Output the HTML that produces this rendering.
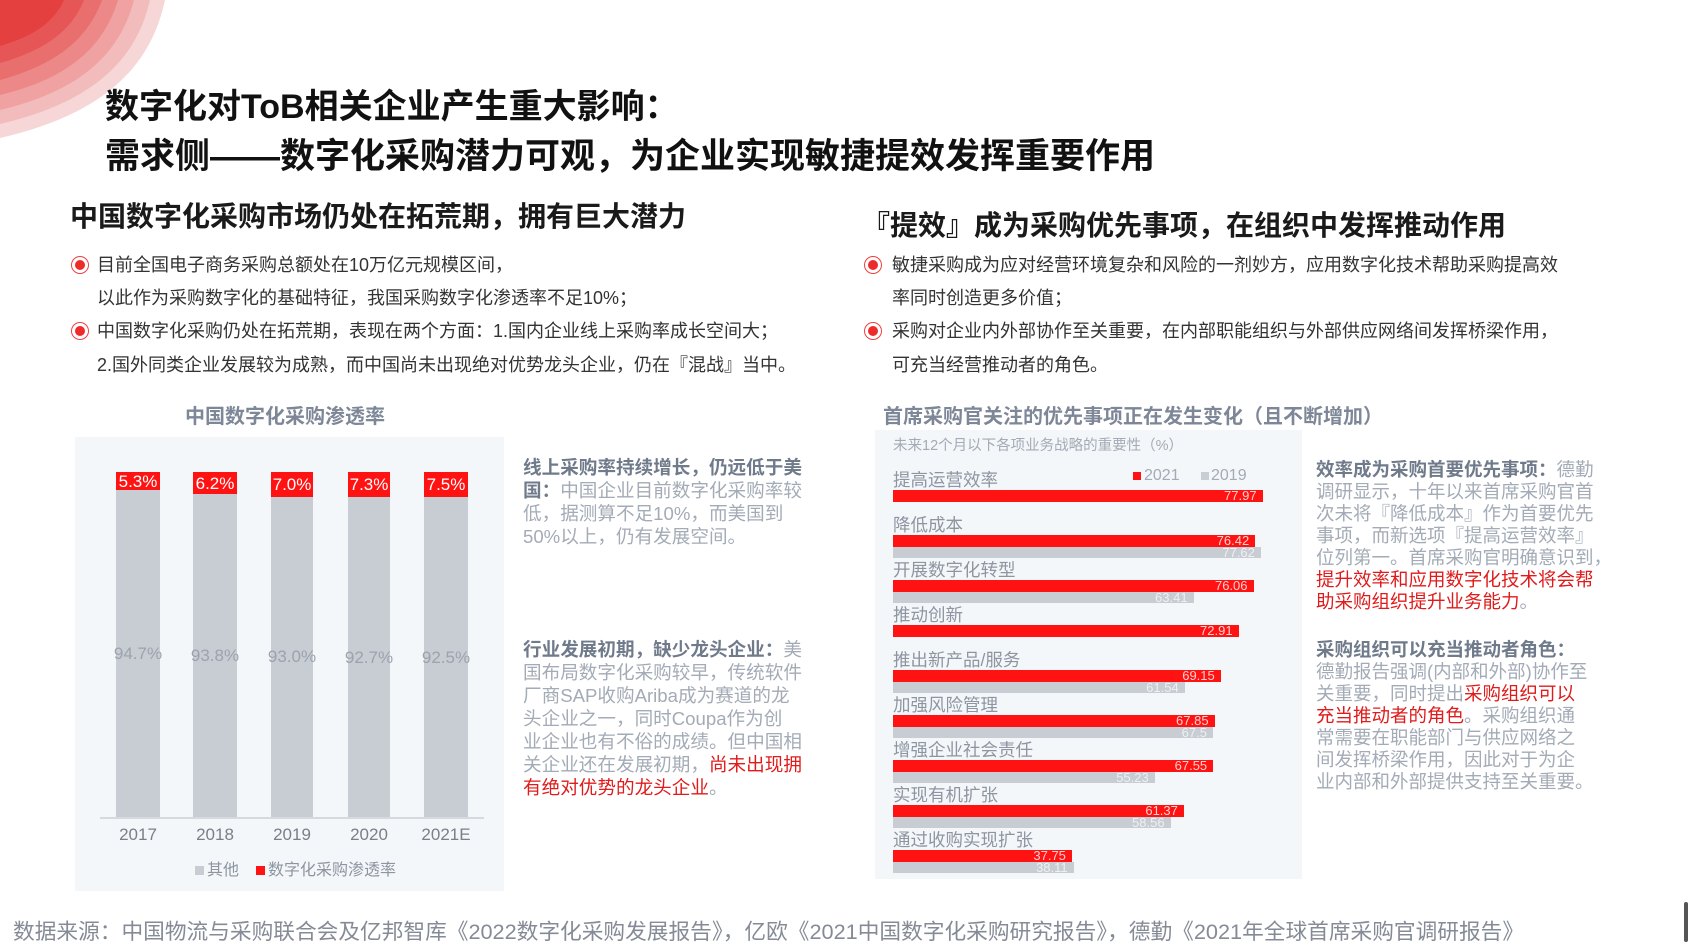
<!DOCTYPE html>
<html><head><meta charset="utf-8">
<style>
*{margin:0;padding:0;box-sizing:border-box}
body{width:1688px;height:949px;background:#fff;position:relative;overflow:hidden;font-family:"Liberation Sans","Noto Sans CJK SC",sans-serif}
.a{position:absolute;white-space:nowrap}
.t{font-weight:bold;color:#111;font-size:34px;line-height:40px}
.h{font-weight:bold;color:#1a1a1a;font-size:26px;line-height:30px}
.b{font-size:18px;color:#333;line-height:22px}
.dot{position:absolute;width:18px;height:18px;border-radius:50%;border:1.5px solid #f04040;background:#fff}
.dot::after{content:"";position:absolute;left:2.5px;top:2.5px;width:10px;height:10px;border-radius:50%;background:#ee2b2b}
.ct{font-weight:bold;color:#7d8797;font-size:20px;line-height:24px}
.tx{font-size:18.6px;line-height:23px;color:#a3abb6}
.tx b{color:#6f7a8b}
.tx r,.tx2 r{color:#e01b1b}
.tx2{font-size:18.5px;line-height:22px;color:#a3abb6}
.tx2 b{color:#6f7a8b}
.bar{position:absolute;background:#c8ccd3}
.red{position:absolute;background:#ff1212}
.lbl{position:absolute;font-size:17px;color:#8d95a1;line-height:20px;white-space:nowrap}
.v{position:absolute;font-size:13px;line-height:12px;text-align:right;white-space:nowrap}
</style></head><body>
<svg class="a" style="left:0;top:0" width="180" height="150">
<path d="M0 0 H165 C150 70 100 115 0 138 Z" fill="#f6d6d6"/>
<path d="M0 0 H150 C136 62 90 103 0 124 Z" fill="#f3bcbc"/>
<path d="M0 0 H134 C120 54 80 91 0 110 Z" fill="#f0a2a2"/>
<path d="M0 0 H118 C104 46 70 78 0 95 Z" fill="#ec8888"/>
<path d="M0 0 H102 C88 38 58 64 0 80 Z" fill="#e96e6e"/>
<path d="M0 0 H84 C72 30 46 50 0 63 Z" fill="#e65656"/>
<path d="M0 0 H64 C54 22 34 36 0 46 Z" fill="#e44040"/>
</svg>
<div class="a t" style="left:105px;top:87px">数字化对ToB相关企业产生重大影响：</div>
<div class="a t" style="left:105px;top:137px;font-size:35px">需求侧——数字化采购潜力可观，为企业实现敏捷提效发挥重要作用</div>

<div class="a h" style="left:70px;top:202px;font-size:28px">中国数字化采购市场仍处在拓荒期，拥有巨大潜力</div>
<div class="dot" style="left:71px;top:256px"></div>
<div class="a b" style="left:97px;top:254px">目前全国电子商务采购总额处在10万亿元规模区间，</div>
<div class="a b" style="left:97px;top:287px">以此作为采购数字化的基础特征，我国采购数字化渗透率不足10%；</div>
<div class="dot" style="left:71px;top:322px"></div>
<div class="a b" style="left:97px;top:320px">中国数字化采购仍处在拓荒期，表现在两个方面：1.国内企业线上采购率成长空间大；</div>
<div class="a b" style="left:97px;top:354px">2.国外同类企业发展较为成熟，而中国尚未出现绝对优势龙头企业，仍在『混战』当中。</div>

<div class="a h" style="left:862px;top:211px;font-size:28px">『提效』成为采购优先事项，在组织中发挥推动作用</div>
<div class="dot" style="left:864px;top:256px"></div>
<div class="a b" style="left:892px;top:254px">敏捷采购成为应对经营环境复杂和风险的一剂妙方，应用数字化技术帮助采购提高效</div>
<div class="a b" style="left:892px;top:287px">率同时创造更多价值；</div>
<div class="dot" style="left:864px;top:322px"></div>
<div class="a b" style="left:892px;top:320px">采购对企业内外部协作至关重要，在内部职能组织与外部供应网络间发挥桥梁作用，</div>
<div class="a b" style="left:892px;top:354px">可充当经营推动者的角色。</div>

<div class="a ct" style="left:185px;top:405px">中国数字化采购渗透率</div>
<div class="a" style="left:75px;top:437px;width:429px;height:454px;background:#f4f7fa"></div>
<div class="a" style="left:100px;top:817px;width:384px;height:2px;background:#d6d9de"></div>
<div class="bar" style="left:116px;top:472px;width:44px;height:345px"></div>
<div class="bar" style="left:193px;top:472px;width:44px;height:345px"></div>
<div class="bar" style="left:271px;top:472px;width:42px;height:345px"></div>
<div class="bar" style="left:348px;top:472px;width:42px;height:345px"></div>
<div class="bar" style="left:424px;top:472px;width:44px;height:345px"></div>
<div class="red" style="left:116px;top:472px;width:44px;height:18px"></div>
<div class="red" style="left:193px;top:472px;width:44px;height:22px"></div>
<div class="red" style="left:271px;top:472px;width:42px;height:25px"></div>
<div class="red" style="left:348px;top:472px;width:42px;height:25px"></div>
<div class="red" style="left:424px;top:472px;width:44px;height:25px"></div>
<div class="lbl" style="left:116px;width:44px;text-align:center;top:472px;color:#fff">5.3%</div>
<div class="lbl" style="left:193px;width:44px;text-align:center;top:474px;color:#fff">6.2%</div>
<div class="lbl" style="left:271px;width:42px;text-align:center;top:475px;color:#fff">7.0%</div>
<div class="lbl" style="left:348px;width:42px;text-align:center;top:475px;color:#fff">7.3%</div>
<div class="lbl" style="left:424px;width:44px;text-align:center;top:475px;color:#fff">7.5%</div>
<div class="lbl" style="left:110px;width:56px;text-align:center;top:644px;color:#9ba3ae">94.7%</div>
<div class="lbl" style="left:187px;width:56px;text-align:center;top:646px;color:#9ba3ae">93.8%</div>
<div class="lbl" style="left:264px;width:56px;text-align:center;top:647px;color:#9ba3ae">93.0%</div>
<div class="lbl" style="left:341px;width:56px;text-align:center;top:648px;color:#9ba3ae">92.7%</div>
<div class="lbl" style="left:418px;width:56px;text-align:center;top:648px;color:#9ba3ae">92.5%</div>
<div class="lbl" style="left:108px;width:60px;text-align:center;top:825px;color:#7a7f88">2017</div>
<div class="lbl" style="left:185px;width:60px;text-align:center;top:825px;color:#7a7f88">2018</div>
<div class="lbl" style="left:262px;width:60px;text-align:center;top:825px;color:#7a7f88">2019</div>
<div class="lbl" style="left:339px;width:60px;text-align:center;top:825px;color:#7a7f88">2020</div>
<div class="lbl" style="left:416px;width:60px;text-align:center;top:825px;color:#7a7f88">2021E</div>
<div class="a" style="left:195px;top:866px;width:9px;height:9px;background:#c8ccd3"></div>
<div class="lbl" style="left:207px;top:861px;font-size:16px;color:#8d95a1">其他</div>
<div class="a" style="left:256px;top:866px;width:9px;height:9px;background:#ff1212"></div>
<div class="lbl" style="left:268px;top:861px;font-size:16px;color:#8d95a1">数字化采购渗透率</div>

<div class="a tx" style="left:523px;top:456px">
<b>线上采购率持续增长，仍远低于美</b><br><b>国：</b>中国企业目前数字化采购率较<br>低，据测算不足10%，而美国到<br>50%以上，仍有发展空间。</div>
<div class="a tx" style="left:523px;top:638px">
<b>行业发展初期，缺少龙头企业：</b>美<br>国布局数字化采购较早，传统软件<br>厂商SAP收购Ariba成为赛道的龙<br>头企业之一，同时Coupa作为创<br>业企业也有不俗的成绩。但中国相<br>关企业还在发展初期，<r>尚未出现拥</r><br><r>有绝对优势的龙头企业</r>。</div>

<div class="a ct" style="left:883px;top:405px">首席采购官关注的优先事项正在发生变化（且不断增加）</div>
<div class="a" style="left:875px;top:430px;width:427px;height:449px;background:#f4f7fa"></div>
<div class="lbl" style="left:893px;top:436px;font-size:14.5px;color:#a3abb6">未来12个月以下各项业务战略的重要性（%）</div>
<div class="a" style="left:1133px;top:472px;width:8px;height:8px;background:#ff1212"></div>
<div class="lbl" style="left:1144px;top:466px;font-size:16px;color:#a3abb6">2021</div>
<div class="a" style="left:1201px;top:472px;width:8px;height:8px;background:#c8ccd3"></div>
<div class="lbl" style="left:1211px;top:466px;font-size:16px;color:#a3abb6">2019</div>
<div id="rows"></div>
<script>
var d=[["提高运营效率",77.97,null],["降低成本",76.42,77.62],["开展数字化转型",76.06,63.41],["推动创新",72.91,null],["推出新产品/服务",69.15,61.54],["加强风险管理",67.85,67.5],["增强企业社会责任",67.55,55.23],["实现有机扩张",61.37,58.56],["通过收购实现扩张",37.75,38.11]];
var h="";d.forEach(function(r,i){var y=490+45*i;
h+='<div class="lbl" style="left:893px;top:'+(y-20)+'px;font-size:17.5px">'+r[0]+'</div>';
var w=r[1]*4.74;h+='<div class="red" style="left:893px;top:'+y+'px;width:'+w+'px;height:12px"></div><div class="v" style="left:893px;width:'+(w-6)+'px;top:'+y+'px;color:#ffd0d0">'+r[1]+'</div>';
if(r[2]!==null){var g=r[2]*4.74;h+='<div class="bar" style="left:893px;top:'+(y+12)+'px;width:'+g+'px;height:11px"></div><div class="v" style="left:893px;width:'+(g-6)+'px;top:'+(y+12)+'px;color:#eef0f3">'+r[2]+'</div>';}});
document.getElementById("rows").innerHTML=h;
</script>

<div class="a tx2" style="left:1316px;top:459px">
<b>效率成为采购首要优先事项：</b>德勤<br>调研显示，十年以来首席采购官首<br>次未将『降低成本』作为首要优先<br>事项，而新选项『提高运营效率』<br>位列第一。首席采购官明确意识到，<br><r>提升效率和应用数字化技术将会帮</r><br><r>助采购组织提升业务能力</r>。</div>
<div class="a tx2" style="left:1316px;top:639px">
<b>采购组织可以充当推动者角色：</b><br>德勤报告强调(内部和外部)协作至<br>关重要，同时提出<r>采购组织可以</r><br><r>充当推动者的角色</r>。采购组织通<br>常需要在职能部门与供应网络之<br>间发挥桥梁作用，因此对于为企<br>业内部和外部提供支持至关重要。</div>

<div class="a" style="left:13px;top:919px;font-size:21.7px;line-height:26px;color:#858b96">数据来源：中国物流与采购联合会及亿邦智库《2022数字化采购发展报告》，亿欧《2021中国数字化采购研究报告》，德勤《2021年全球首席采购官调研报告》</div>
<div class="a" style="left:1684px;top:902px;width:4px;height:40px;background:#555;border-radius:2px"></div>
</body></html>
